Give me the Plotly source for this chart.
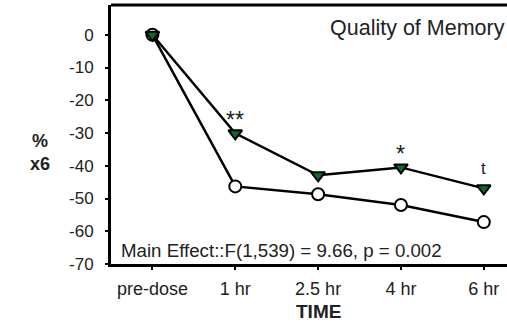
import plotly.graph_objects as go

categories = ["pre-dose", "1 hr", "2.5 hr", "4 hr", "6 hr"]
treated = [0, -30.1, -42.9, -40.5, -46.9]
placebo = [0, -46.3, -48.7, -52.0, -57.2]
sig_labels = ["", "**", "", "*", "t"]
y_ticks = [0, -10, -20, -30, -40, -50, -60, -70]
y_tick_text = ["0", "-10", "-20", "-30", "-40", "-50", "-60", "-70"]

xi = list(range(len(categories)))
font = "Liberation Sans, Arial, Helvetica, sans-serif"
txt = "#222"

fig = go.Figure()
fig.add_trace(go.Scatter(
    x=xi, y=placebo, mode="lines+markers",
    line=dict(color="black", width=2.5),
    marker=dict(symbol="circle", size=12, color="white", line=dict(color="black", width=2)),
    cliponaxis=False, showlegend=False))
fig.add_trace(go.Scatter(
    x=xi, y=treated, mode="lines+markers",
    line=dict(color="black", width=2.5),
    marker=dict(symbol="triangle-down", size=12, color="#0b6b2c", line=dict(color="black", width=2)),
    cliponaxis=False, showlegend=False))

for i, (lab, v) in enumerate(zip(sig_labels, treated)):
    if lab:
        fig.add_annotation(x=i, y=v, text=lab, showarrow=False,
                           yshift=13 if lab != "t" else 20,
                           font=dict(family=font, size=23 if lab != "t" else 17, color=txt))

fig.add_annotation(xref="paper", yref="paper", x=1.0, y=0.912, xanchor="right", yanchor="middle",
                   text="Quality of Memory", showarrow=False,
                   font=dict(family=font, size=21.5, color=txt))
fig.add_annotation(xref="paper", yref="paper", x=0.02, y=0.0, xanchor="left", yanchor="bottom",
                   text="Main Effect::F(1,539) = 9.66, p = 0.002", showarrow=False, yshift=1,
                   font=dict(family=font, size=18.7, color=txt))
fig.add_annotation(xref="paper", yref="paper", x=-0.179, y=0.43, xanchor="center", yanchor="middle",
                   text="<b>%<br>x6</b>", showarrow=False,
                   font=dict(family=font, size=18, color=txt))
fig.add_annotation(xref="x", yref="paper", x=2, y=-0.185, xanchor="center", yanchor="middle",
                   text="<b>TIME</b>", showarrow=False,
                   font=dict(family=font, size=19, color=txt))

# top border
fig.add_shape(type="line", xref="paper", yref="paper", x0=0, x1=1, y0=1, y1=1,
              line=dict(color="black", width=3))

fig.update_xaxes(range=[-0.5, 4.28], tickvals=xi, ticktext=categories,
                 showline=True, linecolor="black", linewidth=3, automargin=False,
                 ticks="outside", ticklen=3, tickwidth=2, tickcolor="black",
                 ticklabelstandoff=3,
                 showgrid=False, zeroline=False,
                 tickfont=dict(family=font, size=18, color=txt))
fig.update_yaxes(range=[-70, 9.1], tickvals=y_ticks, ticktext=y_tick_text,
                 showline=True, linecolor="black", linewidth=3, automargin=False,
                 ticks="outside", ticklen=3, tickwidth=2, tickcolor="black",
                 ticklabelstandoff=8,
                 showgrid=False, zeroline=False,
                 tickfont=dict(family=font, size=17, color=txt))

fig.update_layout(width=507, height=325, margin=dict(l=111, r=0, t=5, b=61),
                  plot_bgcolor="white", paper_bgcolor="white")
fig.write_html("out.html", config={"displayModeBar": False},
               post_script="document.body.style.margin='0';")
